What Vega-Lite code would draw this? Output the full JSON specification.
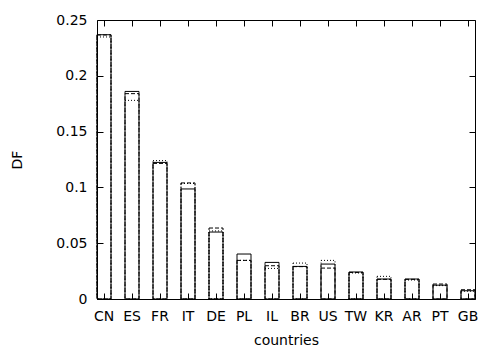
{
  "$schema": "https://vega.github.io/schema/vega-lite/v6.json",
  "width": 378,
  "height": 279,
  "autosize": {"type": "none"},
  "padding": {"left": 97, "top": 20, "right": 3, "bottom": 48},
  "background": "white",
  "config": {
    "view": {"stroke": "black", "strokeWidth": 1},
    "font": "DejaVu Sans",
    "axis": {"labelFont": "DejaVu Sans", "titleFont": "DejaVu Sans", "labelFontSize": 14, "titleFontSize": 14, "titleFontWeight": "normal", "labelColor": "black", "titleColor": "black", "tickColor": "black", "tickWidth": 1, "tickOpacity": 1, "domain": false, "grid": false, "tickSize": -6, "labelPadding": 16}
  },
  "data": {"values": [
    {"country": "CN", "series": "solid", "value": 0.2368},
    {"country": "CN", "series": "dashed", "value": 0.2366},
    {"country": "CN", "series": "dotted", "value": 0.2348},
    {"country": "ES", "series": "solid", "value": 0.186},
    {"country": "ES", "series": "dashed", "value": 0.184},
    {"country": "ES", "series": "dotted", "value": 0.178},
    {"country": "FR", "series": "solid", "value": 0.1224},
    {"country": "FR", "series": "dashed", "value": 0.1215},
    {"country": "FR", "series": "dotted", "value": 0.124},
    {"country": "IT", "series": "solid", "value": 0.0986},
    {"country": "IT", "series": "dashed", "value": 0.104},
    {"country": "IT", "series": "dotted", "value": 0.1035},
    {"country": "DE", "series": "solid", "value": 0.06},
    {"country": "DE", "series": "dashed", "value": 0.0636},
    {"country": "DE", "series": "dotted", "value": 0.061},
    {"country": "PL", "series": "solid", "value": 0.0403},
    {"country": "PL", "series": "dashed", "value": 0.0346},
    {"country": "PL", "series": "dotted", "value": 0.0346},
    {"country": "IL", "series": "solid", "value": 0.0328},
    {"country": "IL", "series": "dashed", "value": 0.0298},
    {"country": "IL", "series": "dotted", "value": 0.0274},
    {"country": "BR", "series": "solid", "value": 0.0292},
    {"country": "BR", "series": "dashed", "value": 0.029},
    {"country": "BR", "series": "dotted", "value": 0.0322},
    {"country": "US", "series": "solid", "value": 0.0313},
    {"country": "US", "series": "dashed", "value": 0.0277},
    {"country": "US", "series": "dotted", "value": 0.0346},
    {"country": "TW", "series": "solid", "value": 0.0242},
    {"country": "TW", "series": "dashed", "value": 0.0238},
    {"country": "TW", "series": "dotted", "value": 0.0233},
    {"country": "KR", "series": "solid", "value": 0.0179},
    {"country": "KR", "series": "dashed", "value": 0.0176},
    {"country": "KR", "series": "dotted", "value": 0.0203},
    {"country": "AR", "series": "solid", "value": 0.0179},
    {"country": "AR", "series": "dashed", "value": 0.0176},
    {"country": "AR", "series": "dotted", "value": 0.017},
    {"country": "PT", "series": "solid", "value": 0.0124},
    {"country": "PT", "series": "dashed", "value": 0.0134},
    {"country": "PT", "series": "dotted", "value": 0.012},
    {"country": "GB", "series": "solid", "value": 0.0074},
    {"country": "GB", "series": "dashed", "value": 0.0083},
    {"country": "GB", "series": "dotted", "value": 0.007}
  ]},
  "layer": [
    {
      "mark": {"type": "bar", "filled": false, "color": "black", "strokeWidth": 1},
      "encoding": {
        "x": {"field": "country", "type": "nominal", "sort": null,
              "scale": {"paddingInner": 0.5, "paddingOuter": 0},
              "axis": {"orient": "bottom", "labelAngle": 0, "title": "countries", "titleX": 189, "titleY": 41, "titleBaseline": "middle"}},
        "y": {"field": "value", "type": "quantitative", "stack": null,
              "scale": {"domain": [0, 0.25], "nice": false, "zero": true},
              "axis": {"orient": "left", "values": [0, 0.05, 0.1, 0.15, 0.2, 0.25], "format": "~g", "title": "DF", "titleX": -80, "titleY": 139.5, "titleAlign": "center", "titleBaseline": "middle", "titleAngle": -90}},
        "strokeDash": {"field": "series", "type": "nominal",
                       "scale": {"domain": ["solid", "dashed", "dotted"], "range": [[1, 0], [4, 2], [1, 2]]},
                       "legend": null}
      }
    },
    {
      "mark": {"type": "bar", "opacity": 0},
      "encoding": {
        "x": {"field": "country", "type": "nominal", "sort": null,
              "axis": {"orient": "top", "labels": false, "title": null, "ticks": true}},
        "y": {"field": "value", "type": "quantitative", "stack": null,
              "axis": {"orient": "right", "labels": false, "title": null, "ticks": true, "values": [0, 0.05, 0.1, 0.15, 0.2, 0.25]}}
      }
    }
  ],
  "resolve": {"axis": {"x": "independent", "y": "independent"}}
}
